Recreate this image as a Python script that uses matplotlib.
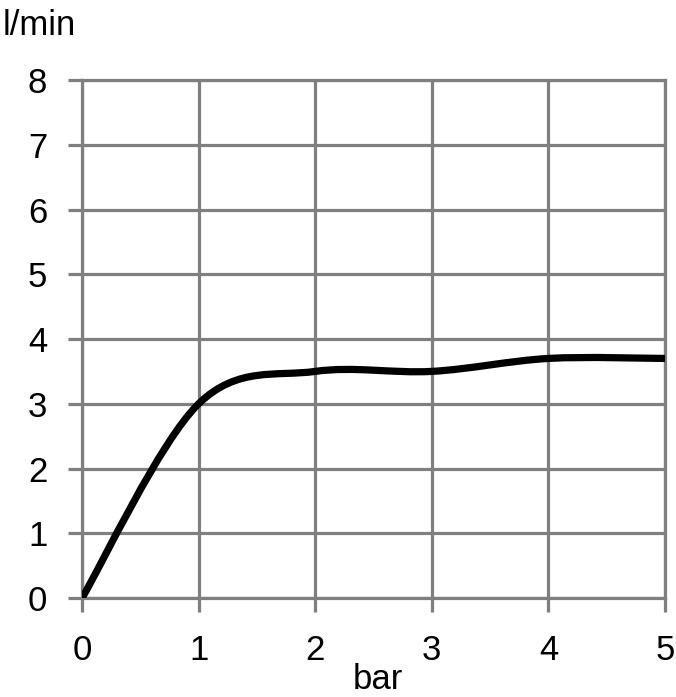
import matplotlib
matplotlib.use('Agg')
import matplotlib.pyplot as plt
from matplotlib.path import Path
from matplotlib.patches import PathPatch

pressure = [0, 1, 2, 3, 4, 5]          # bar
flow = [0, 3.0, 3.5, 3.5, 3.7, 3.7]    # l/min
x_ticks = [0, 1, 2, 3, 4, 5]
y_ticks = [0, 1, 2, 3, 4, 5, 6, 7, 8]

grid_color = '#7f7f7f'
font = ['Liberation Sans', 'DejaVu Sans']
fsize = 25

fig = plt.figure(figsize=(6.76, 6.97), dpi=100)
ax = fig.add_axes([0.1213, 0.142, 0.8624, 0.7432])
ax.set_xlim(0, 5)
ax.set_ylim(0, 8)

# smoothed line like Excel: cubic Bezier segments through the points
n = len(pressure)
verts = [(pressure[0], flow[0])]
codes = [Path.MOVETO]
for i in range(n - 1):
    x0, y0 = pressure[max(i - 1, 0)], flow[max(i - 1, 0)]
    x1, y1 = pressure[i], flow[i]
    x2, y2 = pressure[i + 1], flow[i + 1]
    x3, y3 = pressure[min(i + 2, n - 1)], flow[min(i + 2, n - 1)]
    verts += [(x1 + (x2 - x0) / 6, y1 + (y2 - y0) / 6),
              (x2 - (x3 - x1) / 6, y2 - (y3 - y1) / 6),
              (x2, y2)]
    codes += [Path.CURVE4] * 3
ax.add_patch(PathPatch(Path(verts, codes), fill=False, lw=5.2,
                       color='black', capstyle='round', zorder=3))

ax.set_xticks(x_ticks)
ax.set_yticks(y_ticks)
ax.grid(True, color=grid_color, lw=2.3)
ax.tick_params(axis='both', color=grid_color, width=2.3, length=10,
               labelsize=fsize)
ax.tick_params(axis='x', pad=16)
ax.tick_params(axis='y', pad=15)
for lab in ax.get_xticklabels() + ax.get_yticklabels():
    lab.set_family(font)
for s in ax.spines.values():
    s.set_color(grid_color)
    s.set_linewidth(2.3)

fig.text(0.004, 0.9498, 'l/min', fontsize=fsize, family=font,
         ha='left', va='baseline')
fig.text(0.559, 0.002, 'bar', fontsize=fsize, family=font,
         ha='center', va='bottom')

fig.savefig('out.png', dpi=100)
